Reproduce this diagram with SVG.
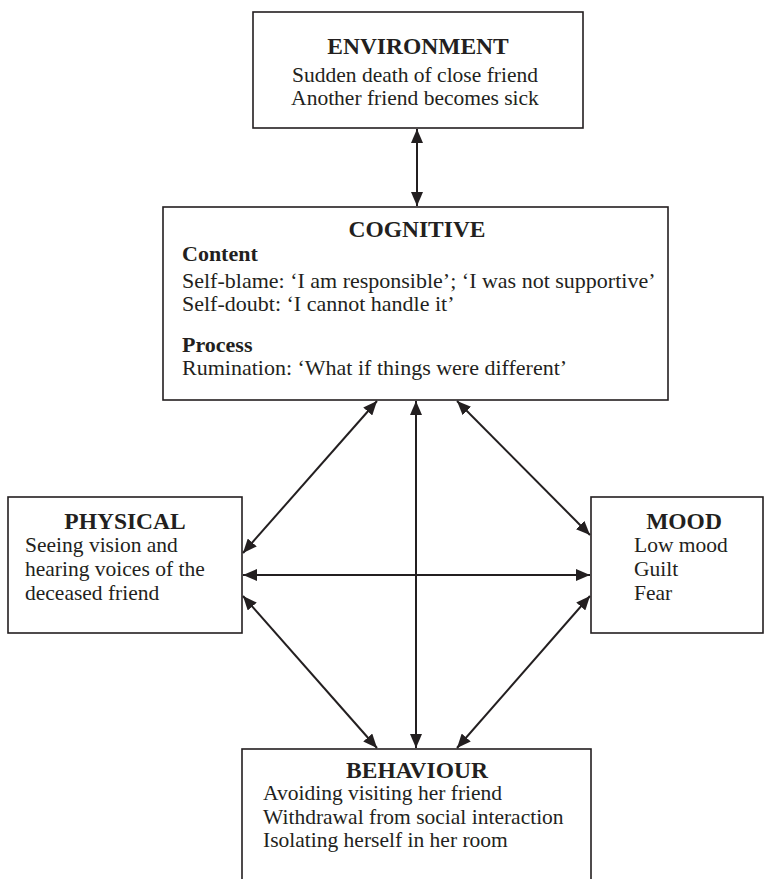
<svg xmlns="http://www.w3.org/2000/svg" width="767" height="879" viewBox="0 0 767 879">
<style>
.box{fill:#fff;stroke:#231f20;stroke-width:1.6}
.t{font-family:"Liberation Serif","Times New Roman",serif;font-size:21.5px;fill:#231f20}
.cg{font-size:22px}
.h{font-weight:bold;text-anchor:middle;font-size:23.5px}
.b{font-weight:bold}
.c{text-anchor:middle}
.con line{stroke:#231f20;stroke-width:2;marker-start:url(#ah);marker-end:url(#ah)}
</style>
<defs>
<marker id="ah" markerUnits="userSpaceOnUse" markerWidth="14" markerHeight="12" refX="14" refY="6" orient="auto-start-reverse">
<path d="M0,0 L14,6 L0,12 z" fill="#231f20"/>
</marker>
</defs>
<rect width="767" height="879" fill="#fff"/>
<g id="environment">
<rect class="box" x="253" y="12" width="330" height="116"/>
<text class="t h" x="418" y="54">ENVIRONMENT</text>
<text class="t c" x="415" y="82">Sudden death of close friend</text>
<text class="t c" x="415" y="105">Another friend becomes sick</text>
</g>
<g id="cognitive">
<rect class="box" x="163" y="207" width="505" height="193"/>
<text class="t h" x="417" y="237">COGNITIVE</text>
<text class="t cg b" x="182" y="261">Content</text>
<text class="t cg" x="182" y="288">Self-blame: ‘I am responsible’; ‘I was not supportive’</text>
<text class="t cg" x="182" y="311">Self-doubt: ‘I cannot handle it’</text>
<text class="t cg b" x="182" y="352">Process</text>
<text class="t cg" x="182" y="375">Rumination: ‘What if things were different’</text>
</g>
<g id="physical">
<rect class="box" x="8" y="497" width="234" height="136"/>
<text class="t h" x="125" y="529">PHYSICAL</text>
<text class="t" x="25" y="552">Seeing vision and</text>
<text class="t" x="25" y="576">hearing voices of the</text>
<text class="t" x="25" y="600">deceased friend</text>
</g>
<g id="mood">
<rect class="box" x="591" y="497" width="172" height="136"/>
<text class="t h" x="684" y="529">MOOD</text>
<text class="t" x="634" y="552">Low mood</text>
<text class="t" x="634" y="576">Guilt</text>
<text class="t" x="634" y="600">Fear</text>
</g>
<g id="behaviour">
<rect class="box" x="242" y="749" width="349" height="140"/>
<text class="t h" x="417" y="778">BEHAVIOUR</text>
<text class="t" x="263" y="800">Avoiding visiting her friend</text>
<text class="t" x="263" y="824">Withdrawal from social interaction</text>
<text class="t" x="263" y="847">Isolating herself in her room</text>
</g>
<g id="connectors" class="con">
<line x1="417" y1="129" x2="417" y2="206"/>
<line x1="377" y1="401" x2="243" y2="553"/>
<line x1="416" y1="401" x2="416" y2="748"/>
<line x1="457" y1="401" x2="590" y2="535"/>
<line x1="243" y1="575" x2="590" y2="575"/>
<line x1="243" y1="596" x2="377" y2="748"/>
<line x1="590" y1="596" x2="457" y2="748"/>
</g>
</svg>
